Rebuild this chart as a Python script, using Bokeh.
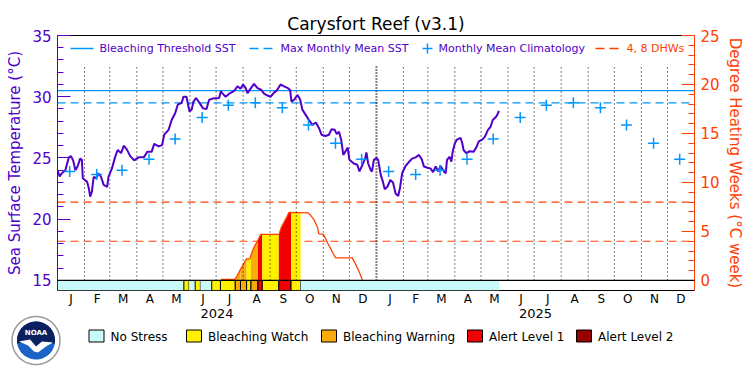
import numpy as np
import pandas as pd
from bokeh.plotting import figure
from bokeh.models import Range1d, LinearAxis, FixedTicker, Span
from bokeh.embed import file_html
from bokeh.resources import INLINE
from bokeh.core.properties import value

# ---------------- data ----------------
# day 0 = 2024-01-01
sst_day = [0, 2.5, 5, 9, 13, 15.5, 18, 20.5, 23, 26, 28, 29, 34, 36, 37.5, 39.5, 41.5, 44.5, 47, 50,
           53, 57, 58.5, 62.5, 66, 69, 73, 76, 79.5, 83.5, 88, 93, 99, 103, 108, 111, 116, 120, 122.5,
           127.5, 131, 135, 138, 142.5, 144.5, 148, 151.5, 154, 156, 159, 163, 167, 171, 174, 178,
           185.5, 187.5, 189, 193, 197, 202.5, 206.5, 210, 213, 216, 218, 222, 225.5, 229.5, 234, 237,
           241, 244.5, 248, 251.5, 256, 260, 264.5, 267, 268.5, 271.5, 275.5, 278.5, 281, 285, 288.5,
           292.5, 296.5, 300, 303, 307.5, 311.5, 314.5, 318, 320.5, 323, 325.5, 328, 330.5, 333, 335,
           340, 344, 346.5, 350, 353, 354.5, 356.5, 359.5, 361, 363, 366, 368, 371, 373.5, 375.5,
           378.5, 382, 385, 388, 391, 393, 395.5, 399.5, 403, 407, 411, 414.5, 418, 420.5, 424.5,
           428, 431, 434, 437, 439.5, 443.5, 445.5, 447, 450, 452, 453.5, 456, 458.5, 462.5, 464.5,
           466, 469, 473, 477.5, 480.5, 483.5, 487.5, 490.5, 494, 497, 499.5, 502.5, 504.5, 506.5]
sst_val = [24.0, 23.5, 23.75, 24.0, 25.05, 25.15, 24.8, 24.0, 24.3, 24.95, 24.85, 23.35, 23.05, 22.5,
           21.85, 22.25, 23.45, 23.35, 23.75, 23.45, 22.8, 22.65, 23.45, 24.15, 25.05, 25.65, 25.4,
           26.0, 25.7, 25.15, 24.8, 25.05, 25.05, 25.5, 25.5, 26.15, 25.95, 26.05, 26.9, 27.3, 28.1,
           28.65, 29.35, 29.5, 30.0, 30.0, 28.8, 28.95, 29.6, 29.9, 29.5, 29.05, 29.0, 29.75, 29.85,
           29.9, 30.45, 30.3, 30.0, 30.25, 30.45, 30.85, 30.65, 31.0, 30.7, 30.3, 30.7, 31.05, 30.7,
           30.55, 30.25, 30.1, 30.0, 30.3, 30.5, 31.0, 30.85, 30.7, 30.55, 29.6, 29.75, 30.15, 29.75,
           28.95, 28.5, 28.1, 27.7, 27.9, 27.45, 26.9, 26.8, 26.9, 27.35, 27.3, 26.95, 27.15, 26.5,
           25.25, 25.55, 25.85, 24.85, 24.55, 24.45, 23.9, 24.45, 24.95, 25.45, 24.55, 24.0, 23.9,
           24.85, 25.0, 24.85, 23.6, 23.05, 22.45, 22.65, 23.2, 23.0, 22.1, 21.9, 22.55, 23.75, 24.35,
           24.65, 24.95, 25.05, 25.25, 24.9, 24.3, 24.2, 24.15, 23.85, 24.3, 23.9, 24.35, 23.9, 23.75,
           24.85, 25.1, 24.7, 25.5, 26.2, 26.5, 26.65, 26.2, 25.65, 25.4, 25.55, 25.5, 25.85, 26.35,
           26.5, 26.75, 27.3, 27.55, 28.1, 28.3, 28.5, 28.85]

clim_month_sst = [23.9, 23.65, 24.0, 24.9, 26.55, 28.3, 29.3, 29.5, 29.1, 27.7, 26.2, 24.9]
mmm_sst = 29.5
threshold_sst = 30.5
dhw_ref_levels = [4, 8]

dhw_day = [187.4, 203.4, 205.7, 208.4, 211, 214, 216.8, 220.6, 223.7, 226.4, 229.5, 233.2, 254.2,
           257, 260, 263, 265.7, 287.5, 290.5, 294.3, 298.2, 300, 305, 307.7, 310.4, 313.5, 316.5,
           319.2, 338.3, 341, 344, 347, 349.8]
dhw_val = [0.1, 0.1, 0.4, 0.85, 1.3, 1.75, 2.2, 2.2, 3.0, 3.55, 4.0, 4.7, 4.7, 5.45, 5.95, 6.45,
           6.95, 6.9, 6.65, 6.2, 5.45, 4.75, 4.7, 4.25, 3.75, 3.25, 2.7, 2.3, 2.3, 1.85, 1.3, 0.7, 0.05]

stress_start = [0, 145, 151, 158, 164, 177, 187, 204, 210, 217, 222, 230, 235, 254, 268, 279]
stress_end = [145, 151, 158, 164, 177, 187, 204, 210, 217, 222, 230, 235, 254, 268, 279, 507]
stress_level = [0, 1, 0, 1, 0, 1, 1, 2, 2, 1, 2, 3, 1, 3, 1, 0]

stress_names = ["No Stress", "Bleaching Watch", "Bleaching Warning", "Alert Level 1", "Alert Level 2"]
stress_colors = ["#c8fafa", "#fff000", "#faaa0a", "#f00000", "#960000"]

month_letters = ["J", "F", "M", "A", "M", "J", "J", "A", "S", "O", "N", "D"]
year_labels = ["2024", "2025"]

title_text = "Carysfort Reef (v3.1)"

# ---------------- styles ----------------
PURPLE = "#5000c8"
BLUE = "#0096ff"
RED = "#ff4000"
FONT = "DejaVu Sans"

base = pd.Timestamp("2024-01-01")
month_starts = pd.date_range("2024-01-01", "2026-01-01", freq="MS")
ms_days = np.array([(d - base).days for d in month_starts], dtype=float)
mid_days = (ms_days[:-1] + ms_days[1:]) / 2.0
mid15_days = np.array([(d + pd.Timedelta(days=14) - base).days for d in month_starts[:-1]], dtype=float)
year_start_days = np.array([(pd.Timestamp(f"{y}-01-01") - base).days for y in (2024, 2025, 2026)], dtype=float)
year_mid = (year_start_days[:-1] + year_start_days[1:]) / 2.0

x_end = float(ms_days[-1])
y_lo = 14.18
y_hi = 35.0

p = figure(width=750, height=375, x_range=Range1d(0, x_end), y_range=Range1d(y_lo, y_hi),
           output_backend="svg", toolbar_location=None, x_axis_type=None, y_axis_type=None,
           min_border_left=57, min_border_right=56, min_border_top=35, min_border_bottom=85)
p.extra_y_ranges = {"dhw": Range1d((y_lo - 15) * 1.25, (y_hi - 15) * 1.25),
                    "py": Range1d(290, 35)}
p.extra_x_ranges = {"px": Range1d(57, 694)}
p.outline_line_color = "black"
p.outline_line_width = 1
p.background_fill_color = "white"
p.border_fill_color = "white"

p.title.text = title_text
p.title.align = "center"
p.title.text_font = FONT
p.title.text_font_size = "17px"
p.title.text_font_style = "normal"
p.title.text_color = "black"
p.title.standoff = 3


def style_vaxis(a, col, tick_standoff, label_standoff):
    a.axis_line_color = col
    a.major_tick_line_color = col
    a.minor_tick_line_color = col
    a.major_tick_in = 13
    a.major_tick_out = 0
    a.minor_tick_in = 6
    a.minor_tick_out = 0
    a.major_label_text_color = col
    a.major_label_text_font = FONT
    a.major_label_text_font_size = "15px"
    a.major_label_standoff = tick_standoff
    a.axis_label_text_color = col
    a.axis_label_text_font = FONT
    a.axis_label_text_font_size = "15px"
    a.axis_label_text_font_style = "normal"
    a.axis_label_standoff = label_standoff


la = LinearAxis(ticker=FixedTicker(ticks=[15, 20, 25, 30, 35], minor_ticks=list(range(15, 36))))
la.axis_label = "Sea Surface Temperature (°C)"
style_vaxis(la, PURPLE, 6, 5)
p.add_layout(la, "left")

ra = LinearAxis(y_range_name="dhw",
                ticker=FixedTicker(ticks=[0, 5, 10, 15, 20, 25], minor_ticks=list(range(0, 26))))
ra.axis_label = "Degree Heating Weeks (°C week)"
style_vaxis(ra, RED, 6, 3)
p.add_layout(ra, "right")


def style_haxis(a, size, standoff):
    a.axis_line_color = None
    a.major_tick_line_color = None
    a.minor_tick_line_color = None
    a.major_tick_in = 0
    a.major_tick_out = 0
    a.minor_tick_in = 0
    a.minor_tick_out = 0
    a.major_label_text_font = FONT
    a.major_label_text_font_size = size
    a.major_label_text_color = "black"
    a.major_label_standoff = standoff


mx = LinearAxis(ticker=FixedTicker(ticks=list(mid_days), minor_ticks=[]))
mx.major_label_overrides = {float(d): month_letters[i % 12] for i, d in enumerate(mid_days)}
style_haxis(mx, "12px", 1)
p.add_layout(mx, "below")

yx = LinearAxis(ticker=FixedTicker(ticks=list(year_mid), minor_ticks=[]))
yx.major_label_overrides = {float(d): year_labels[i] for i, d in enumerate(year_mid)}
style_haxis(yx, "13px", 0)
p.add_layout(yx, "below")

# stress bar
p.quad(left=stress_start, right=stress_end, bottom=y_lo, top=15,
       fill_color=[stress_colors[l] for l in stress_level],
       line_color=[None if l == 0 else "black" for l in stress_level], line_width=1)

# DHW fills per stress segment
for s, e, lev in zip(stress_start, stress_end, stress_level):
    if lev == 0 or e <= dhw_day[0] or s >= dhw_day[-1]:
        continue
    xs = [s] + [d for d in dhw_day if s < d < e] + [e]
    ys = np.interp(xs, dhw_day, dhw_val, left=0, right=0)
    p.varea(x=xs, y1=0, y2=ys, fill_color=stress_colors[lev], y_range_name="dhw")

p.line(dhw_day, dhw_val, line_color=RED, line_width=1.3, y_range_name="dhw")

# reference lines
for lv in dhw_ref_levels:
    p.add_layout(Span(location=lv, dimension="width", line_color=RED, line_width=1.2,
                      line_dash="8 5", y_range_name="dhw", level="underlay"))
p.add_layout(Span(location=threshold_sst, dimension="width", line_color=BLUE, line_width=1.3,
                  level="underlay"))
p.add_layout(Span(location=mmm_sst, dimension="width", line_color=BLUE, line_width=1.3,
                  line_dash="8 5", level="underlay"))
p.add_layout(Span(location=15, dimension="width", line_color="black", line_width=1.2))

# month dotted lines
inner = [d for d in ms_days[1:-1] if d != year_start_days[1]]
p.segment(x0=inner, y0=15, x1=inner, y1=32.55, line_color="black", line_dash="1 3", line_width=1)
p.segment(x0=[year_start_days[1]], y0=15, x1=[year_start_days[1]], y1=32.55, line_color="black",
          line_dash="1 2", line_width=2)

# SST
p.line(sst_day, sst_val, line_color=PURPLE, line_width=2)

# climatology crosses
p.scatter(list(mid15_days), clim_month_sst * 2, marker="cross", size=11, line_color=BLUE,
          line_width=1.5)

# top legend (pixel coordinates)
LY = 48
kw = dict(x_range_name="px", y_range_name="py")
p.segment(x0=[70], y0=[LY], x1=[93], y1=[LY], line_color=BLUE, line_width=1.3, **kw)
p.segment(x0=[249], y0=[LY], x1=[273], y1=[LY], line_color=BLUE, line_width=1.3, line_dash="9 5", **kw)
p.scatter(x=[427], y=[LY], marker="cross", size=10, line_color=BLUE, line_width=1.5, **kw)
p.segment(x0=[595], y0=[LY], x1=[619], y1=[LY], line_color=RED, line_width=1.3, line_dash="9 5", **kw)
p.text(x=[99, 280, 438], y=[LY] * 3,
       text=["Bleaching Threshold SST", "Max Monthly Mean SST", "Monthly Mean Climatology"],
       text_color=PURPLE, text_font=value(FONT), text_font_size="11px", text_baseline="middle",
       text_align="left", **kw)
p.text(x=[626], y=[LY], text=["4, 8 DHWs"], text_color=RED, text_font=value(FONT),
       text_font_size="11px", text_baseline="middle", text_align="left", **kw)

# bottom stress legend (pixel coordinates, outside frame)
box_left = [88.5, 186, 321, 467, 576]
p.quad(left=box_left, right=[b + 15 for b in box_left], top=329.5, bottom=341.5,
       fill_color=stress_colors, line_color="black", line_width=1, level="overlay", **kw)
p.text(x=[b + 21.5 for b in box_left], y=[336] * 5, text=stress_names, text_color="black",
       text_font=value(FONT), text_font_size="12px", text_baseline="middle", text_align="left",
       level="overlay", **kw)

# NOAA-like logo (polygons, outside frame)
cx, cy = 35.5, 340.0
ang = np.linspace(0, 2 * np.pi, 60)
p.patch(list(cx + 24 * np.cos(ang)), list(cy + 24 * np.sin(ang)), fill_color="white",
        line_color="#9a9a9a", line_width=1.5, level="overlay", **kw)
p.patch(list(cx + 19 * np.cos(ang)), list(cy + 19 * np.sin(ang)), fill_color="#1b63c6",
        line_color=None, level="overlay", **kw)
th = np.linspace(np.deg2rad(190), np.deg2rad(-10), 40)
navy_x = list(cx + 19 * np.cos(th)) + [cx + 6, cx, cx - 6]
navy_y = list(cy - 19 * np.sin(th)) + [cy + 1, cy + 6, cy - 1]
p.patch(navy_x, navy_y, fill_color="#0c1f5e", line_color=None, level="overlay", **kw)
bx = [cx - 17, cx - 6, cx, cx + 6, cx + 17, cx + 10, cx + 2, cx - 2, cx - 8]
by = [cy + 1, cy - 1, cy + 6, cy + 1, cy + 2, cy + 6, cy + 12, cy + 11, cy + 5]
p.patch(bx, by, fill_color="white", line_color=None, level="overlay", **kw)
p.text(x=[cx], y=[cy - 8], text=["NOAA"], text_color="white", text_font=value(FONT),
       text_font_size="7px", text_font_style="bold", text_align="center", text_baseline="middle",
       level="overlay", **kw)

open("out.html", "w").write(file_html(p, INLINE))
